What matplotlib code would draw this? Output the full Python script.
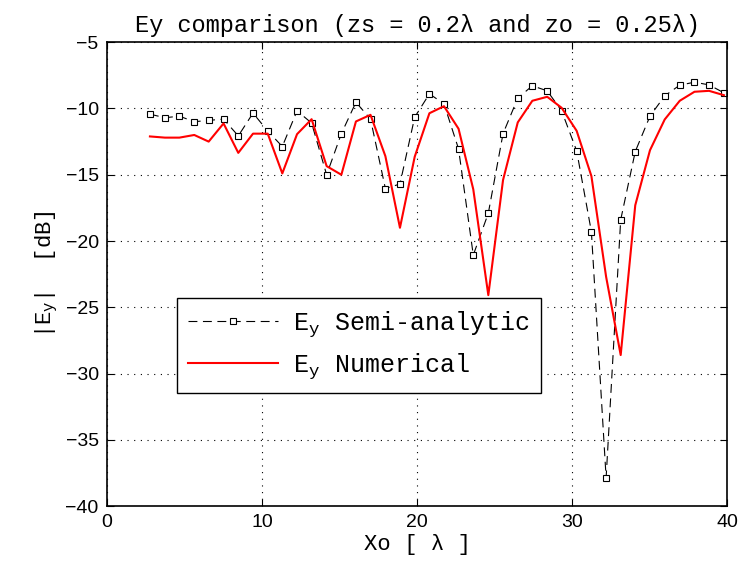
import matplotlib
matplotlib.use('Agg')
import matplotlib.pyplot as plt

# position along the observation line [lambda]
xo = [2.77, 3.74, 4.67, 5.63, 6.56, 7.52, 8.47, 9.42, 10.37, 11.31,
      12.26, 13.20, 14.17, 15.12, 16.06, 17.00, 17.96, 18.90, 19.85, 20.80,
      21.74, 22.68, 23.63, 24.60, 25.55, 26.50, 27.44, 28.40, 29.33, 30.30,
      31.25, 32.20, 33.14, 34.08, 35.03, 35.98, 36.95, 37.90, 38.84, 39.80]

# |Ey| in dB
ey_semi = [-10.43, -10.70, -10.58, -11.00, -10.90, -10.80, -12.07, -10.35, -11.70, -12.87,
           -10.18, -11.10, -15.00, -11.90, -9.53, -10.80, -16.04, -15.70, -10.66, -8.90,
           -9.65, -13.05, -21.06, -17.90, -11.90, -9.22, -8.29, -8.67, -10.18, -13.20,
           -19.30, -37.86, -18.40, -13.25, -10.58, -9.05, -8.24, -8.02, -8.22, -8.82]

ey_num = [-12.11, -12.20, -12.20, -12.00, -12.50, -11.13, -13.35, -11.90, -11.90, -14.90,
          -11.94, -10.81, -14.35, -15.00, -10.98, -10.48, -13.60, -19.00, -13.65, -10.36,
          -9.83, -11.53, -16.10, -24.08, -15.40, -11.05, -9.42, -9.12, -9.95, -11.69,
          -15.10, -22.70, -28.60, -17.30, -13.15, -10.83, -9.42, -8.74, -8.67, -9.00]

mono = ['Liberation Mono', 'DejaVu Sans Mono']
plt.rcParams['mathtext.fontset'] = 'custom'
plt.rcParams['mathtext.rm'] = 'Liberation Mono'
plt.rcParams['mathtext.it'] = 'Liberation Mono'
plt.rcParams['mathtext.default'] = 'rm'

fig = plt.figure(figsize=(7.43, 5.70), dpi=100)
ax = fig.add_axes([0.144, 0.112, 0.8345, 0.814])

ax.plot(xo, ey_semi, color='black', linestyle=(0, (8, 5)), linewidth=0.8,
        marker='s', markersize=5, markerfacecolor='white',
        markeredgecolor='black', markeredgewidth=0.8,
        label=r'E$_{y}$ Semi-analytic')
ax.plot(xo, ey_num, color='red', linewidth=1.5, label=r'E$_{y}$ Numerical')

ax.set_xlim(0, 40)
ax.set_ylim(-40, -5)
ax.set_xticks([0, 10, 20, 30, 40])
ax.set_yticks([-40, -35, -30, -25, -20, -15, -10, -5])
ax.grid(True, linestyle=(0, (1, 5)), color='black', linewidth=0.8)
ax.tick_params(direction='in', top=True, right=True, labelsize=14, length=5, pad=6)
for lab in ax.get_xticklabels() + ax.get_yticklabels():
    lab.set_family('Liberation Sans')
for s in ax.spines.values():
    s.set_linewidth(1.2)

ax.set_title('Ey comparison (zs = 0.2λ and zo = 0.25λ)', family=mono, fontsize=17, pad=7)
ax.set_xlabel('Xo [ λ ]', family=mono, fontsize=16, labelpad=2)
ax.set_ylabel(r'|E$_{y}$|  [dB]', family=mono, fontsize=16, labelpad=4)

leg = ax.legend(loc='upper left', bbox_to_anchor=(0.113, 0.448), borderaxespad=0,
                prop={'family': mono, 'size': 18},
                fancybox=False, edgecolor='black', framealpha=1, handlelength=3.6,
                handletextpad=0.6, borderpad=0.45, labelspacing=0.5)
leg.get_frame().set_linewidth(1.0)

fig.savefig('out.png', dpi=100)
